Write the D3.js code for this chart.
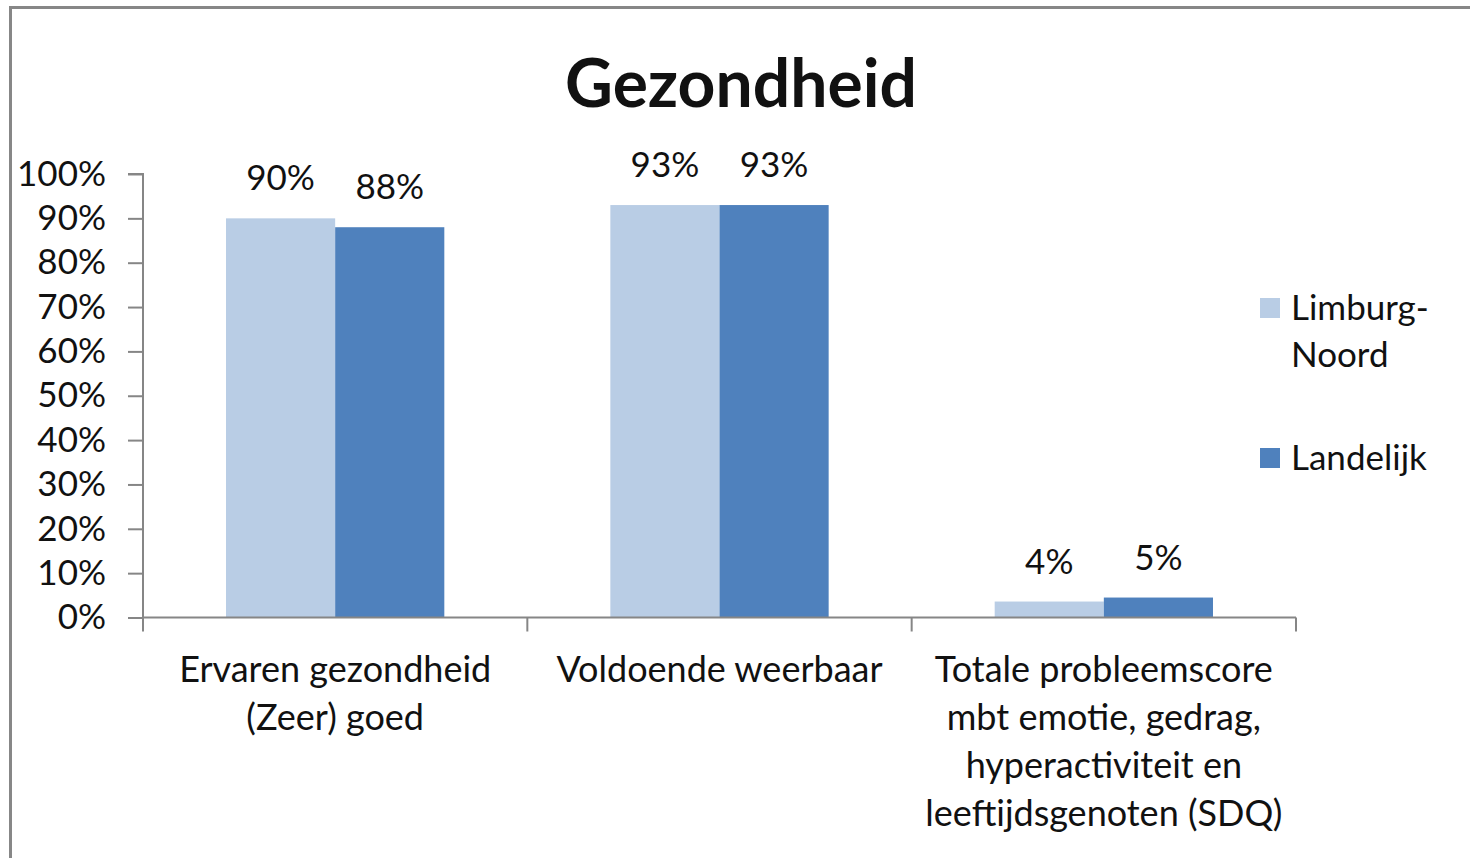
<!DOCTYPE html>
<html>
<head>
<meta charset="utf-8">
<script src="https://cdn.jsdelivr.net/npm/d3@7"></script>
<style>
  body { margin: 0; background: #fff; }
  svg text { font-family: Lato, "Open Sans", sans-serif; fill: #111; }
</style>
</head>
<body>
<script>
// chart data
const categories = [
    ["Ervaren gezondheid", "(Zeer) goed"],
    ["Voldoende weerbaar"],
    ["Totale probleemscore", "mbt emotie, gedrag,", "hyperactiviteit en", "leeftijdsgenoten (SDQ)"]
];
const seriesNames = ["Limburg-Noord", "Landelijk"];
const limburgNoord = [90, 93, 3.6];
const landelijk = [88, 93, 4.5];
const yTicks = [0, 10, 20, 30, 40, 50, 60, 70, 80, 90, 100];

const COLORS = ["#b9cde5", "#4f81bd"];
const WIDTH = 1470, HEIGHT = 858;
const PLOT = {left: 143, right: 1296, top: 174, bottom: 617.5};

const svg = d3.select("body").append("svg")
    .attr("width", WIDTH)
    .attr("height", HEIGHT);

// frame
svg.append("rect")
    .attr("x", 10.5).attr("y", 7.5)
    .attr("width", 1500).attr("height", 900)
    .attr("fill", "none")
    .attr("stroke", "#878787")
    .attr("stroke-width", 3);

// title
svg.append("text")
    .attr("x", 741).attr("y", 107)
    .attr("text-anchor", "middle")
    .style("font-size", "66px")
    .style("font-weight", 700)
    .text("Gezondheid");

const idx = categories.map((d, i) => i);
const x0 = d3.scaleBand()
    .domain(idx)
    .range([PLOT.left, PLOT.right])
    .paddingInner(0.432)
    .paddingOuter(0.216);

const x1 = d3.scaleBand()
    .domain([0, 1])
    .range([0, x0.bandwidth()]);

const y = d3.scaleLinear()
    .domain([0, 100])
    .range([PLOT.bottom, PLOT.top]);

// y axis
const yAxis = svg.append("g")
    .attr("transform", `translate(${PLOT.left},0)`)
    .call(d3.axisLeft(y)
        .tickValues(yTicks)
        .tickSize(15)
        .tickPadding(22)
        .tickFormat(d => d + "%"));
yAxis.selectAll("path, line").attr("stroke", "#868686").attr("stroke-width", 2);
yAxis.select(".domain").attr("d", `M-15,${y(100)}H0V${y(0)}`);
yAxis.selectAll("text").style("font-size", "35px").attr("fill", "#111");

// bars
const series = [limburgNoord, landelijk];
series.forEach((vals, s) => {
    svg.append("g").selectAll("rect")
        .data(vals)
        .join("rect")
        .attr("x", (d, i) => x0(i) + x1(s))
        .attr("y", d => y(d))
        .attr("width", x1.bandwidth())
        .attr("height", d => y(0) - y(d))
        .attr("fill", COLORS[s]);

    svg.append("g").selectAll("text")
        .data(vals)
        .join("text")
        .attr("x", (d, i) => x0(i) + x1(s) + x1.bandwidth() / 2)
        .attr("y", d => y(d) - 28)
        .attr("text-anchor", "middle")
        .style("font-size", "35px")
        .text(d => Math.round(d) + "%");
});

// x axis: line with ticks between categories
const step = x0.step();
const xAxis = svg.append("g");
xAxis.append("line")
    .attr("x1", PLOT.left).attr("x2", PLOT.right)
    .attr("y1", y(0)).attr("y2", y(0))
    .attr("stroke", "#868686").attr("stroke-width", 2);
xAxis.selectAll(".tick")
    .data(d3.range(categories.length + 1))
    .join("line")
    .attr("x1", i => PLOT.left + i * step)
    .attr("x2", i => PLOT.left + i * step)
    .attr("y1", y(0))
    .attr("y2", y(0) + 14)
    .attr("stroke", "#868686").attr("stroke-width", 2);

// category labels
xAxis.selectAll(".cat")
    .data(categories)
    .join("text")
    .attr("class", "cat")
    .attr("text-anchor", "middle")
    .style("font-size", "36px")
    .each(function (lines, i) {
        d3.select(this).selectAll("tspan")
            .data(lines)
            .join("tspan")
            .attr("x", x0(i) + x0.bandwidth() / 2)
            .attr("y", (l, j) => 682 + j * 48)
            .text(l => l);
    });

// legend
const legend = svg.append("g");
const legendRows = [
    {color: COLORS[0], y: 298, lines: ["Limburg-", "Noord"]},
    {color: COLORS[1], y: 448, lines: ["Landelijk"]}
];
legendRows.forEach(r => {
    legend.append("rect")
        .attr("x", 1260).attr("y", r.y)
        .attr("width", 20).attr("height", 20)
        .attr("fill", r.color);
    legend.append("text")
        .style("font-size", "35px")
        .selectAll("tspan")
        .data(r.lines)
        .join("tspan")
        .attr("x", 1291)
        .attr("y", (l, j) => r.y + 22 + j * 47)
        .text(l => l);
});
</script>
</body>
</html>
